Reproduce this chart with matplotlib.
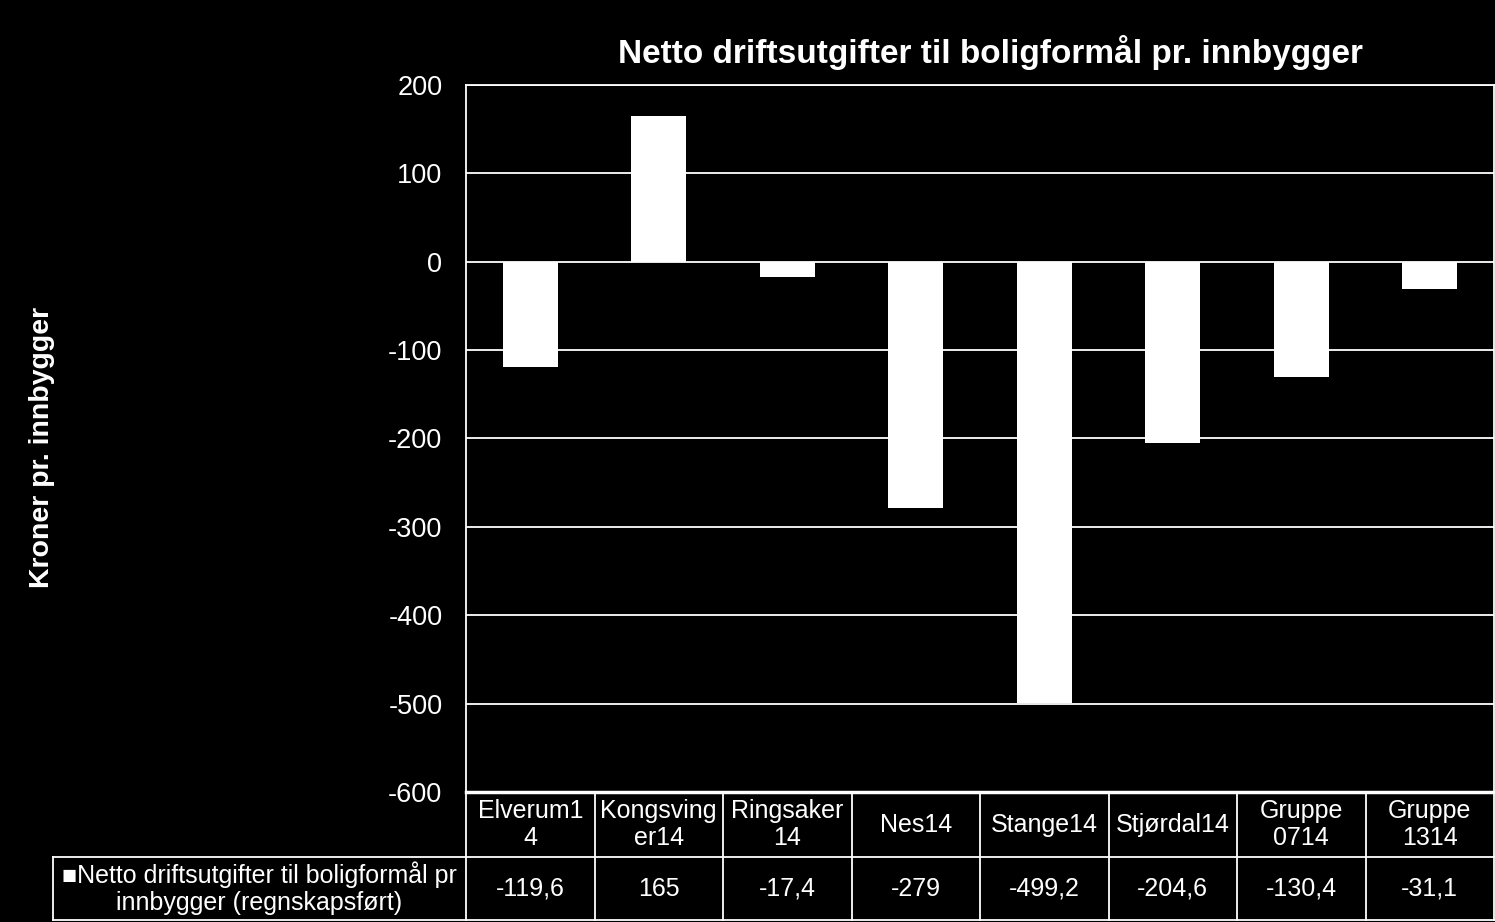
import numpy as np
import matplotlib
matplotlib.use("Agg")
from matplotlib import pyplot as plt
from matplotlib.lines import Line2D

plt.rcParams['font.family'] = ['Liberation Sans', 'DejaVu Sans']

categories = ['Elverum1\n4', 'Kongsving\ner14', 'Ringsaker\n14', 'Nes14',
              'Stange14', 'Stjørdal14', 'Gruppe\n0714', 'Gruppe\n1314']
values = [-119.6, 165, -17.4, -279, -499.2, -204.6, -130.4, -31.1]
value_labels = ['-119,6', '165', '-17,4', '-279', '-499,2', '-204,6', '-130,4', '-31,1']
series_name = '\u25A0Netto driftsutgifter til boligformål pr\ninnbygger (regnskapsført)'
yticks = [200, 100, 0, -100, -200, -300, -400, -500, -600]

W, H = 1495, 922
fig = plt.figure(figsize=(W / 100, H / 100), dpi=100, facecolor='black')

# pixel layout
x0, x1 = 466, 1494
ytop, ybot = 85, 792
ax = fig.add_axes([x0 / W, 1 - ybot / H, (x1 - x0) / W, (ybot - ytop) / H])
ax.set_facecolor('black')

x = np.arange(len(categories))
ax.bar(x, values, width=0.43, color='white', edgecolor='none', zorder=3)
ax.set_xlim(-0.5, len(categories) - 0.5)
ax.set_ylim(-600, 200)
ax.set_yticks(yticks)
ax.set_yticklabels([str(t) for t in yticks], color='white', fontsize=19.5)
ax.set_xticks([])
ax.tick_params(axis='y', length=0, pad=26)
for lbl in ax.get_yticklabels():
    lbl.set_x(-0.0)
ax.tick_params(axis='y', pad=17)
for t in yticks:
    ax.axhline(t, color='white', lw=1.3, zorder=1)
for s in ['left', 'top', 'right']:
    ax.spines[s].set_color('white')
    ax.spines[s].set_linewidth(1.3)
ax.spines['bottom'].set_color('white')
ax.spines['bottom'].set_linewidth(2.5)

fig.text(990 / W, 1 - 52 / H, 'Netto driftsutgifter til boligformål pr. innbygger',
         color='white', fontsize=24, fontweight='bold', ha='center', va='center')
fig.text(42 / W, 1 - 447 / H, 'Kroner pr. innbygger', color='white', fontsize=20.5,
         fontweight='bold', rotation=90, ha='center', va='center')

# data table below the plot
tbl_bot, tbl_mid = 920, 857
tax = fig.add_axes([x0 / W, 1 - tbl_bot / H, (x1 - x0) / W, (tbl_bot - ybot) / H])
tax.set_xlim(-0.5, len(categories) - 0.5)
tax.set_ylim(0, 2)
tax.axis('off')
mid_y = (tbl_bot - tbl_mid) / (tbl_bot - ybot) * 2
cw = (x1 - x0) / len(categories)
left_x = (53 - x0) / cw - 0.5

lk = dict(color='white', lw=1.3, clip_on=False)
for i in range(len(categories) + 1):
    tax.add_line(Line2D([i - 0.5, i - 0.5], [0, 2], **lk))
tax.add_line(Line2D([left_x, len(categories) - 0.5], [mid_y, mid_y], **lk))
tax.add_line(Line2D([left_x, len(categories) - 0.5], [0, 0], **lk))
tax.add_line(Line2D([left_x, left_x], [0, mid_y], **lk))

for i, (c, v) in enumerate(zip(categories, value_labels)):
    tax.text(i, (2 + mid_y) / 2, c, color='white', fontsize=18, ha='center', va='center',
             multialignment='center', linespacing=1.15)
    tax.text(i, mid_y / 2, v, color='white', fontsize=18, ha='center', va='center')
tax.text((left_x - 0.5) / 2, mid_y / 2, series_name, color='white', fontsize=18,
         ha='center', va='center', multialignment='center', linespacing=1.15)

fig.savefig('out.png', dpi=100, facecolor='black')
